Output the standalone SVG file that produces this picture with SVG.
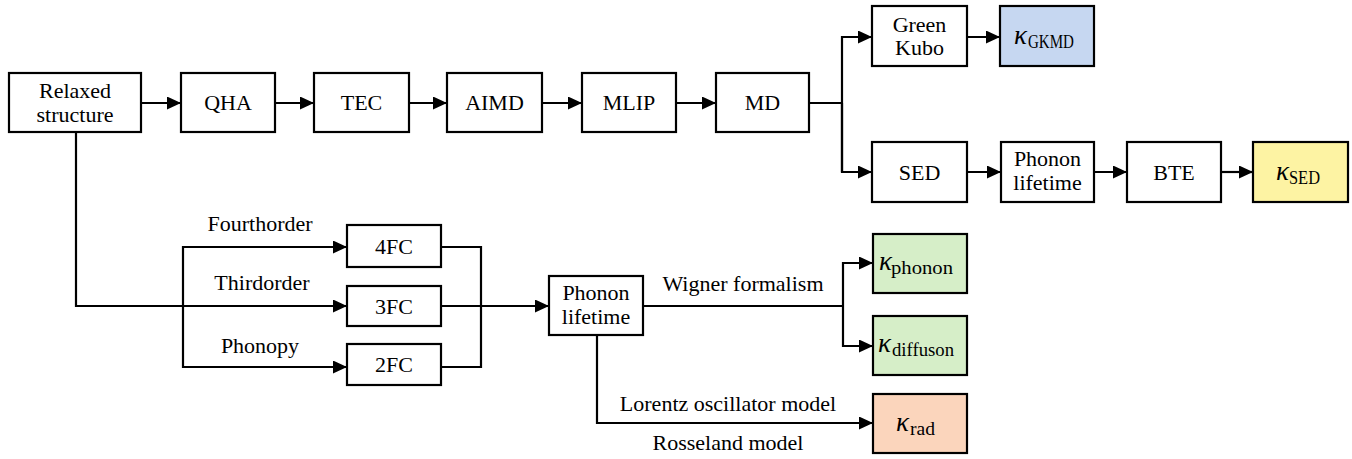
<svg xmlns="http://www.w3.org/2000/svg" width="1352" height="459" viewBox="0 0 1352 459">
  <defs>
    <marker id="arrow" viewBox="0 0 14 13" refX="14" refY="6.5" markerWidth="14" markerHeight="13" markerUnits="userSpaceOnUse" orient="auto">
      <path d="M0,0 L14,6.5 L0,13 Z" fill="#000"/>
    </marker>
  </defs>
  <style>
    .box { fill: #fff; stroke: #000; stroke-width: 2.2; }
    .blue { fill: #c6d7f1; }
    .yellow { fill: #fdf3a3; }
    .green { fill: #d6eec8; }
    .orange { fill: #fbd5bc; }
    .lbl { font-family: "Liberation Serif", "Times New Roman", serif; font-size: 22px; fill: #000; text-anchor: middle; }
    .k { font-family: "Liberation Serif", "Times New Roman", serif; font-style: italic; font-size: 27px; fill: #000; }
    .sub { font-family: "Liberation Serif", "Times New Roman", serif; font-size: 18px; fill: #000; }
    .wire { fill: none; stroke: #000; stroke-width: 2.2; }
  </style>
  <rect width="1352" height="459" fill="#fff"/>

  <!-- connectors -->
  <g id="connectors" class="wire">
    <path d="M141,103 H181" marker-end="url(#arrow)"/>
    <path d="M275,103 H314" marker-end="url(#arrow)"/>
    <path d="M409,103 H447" marker-end="url(#arrow)"/>
    <path d="M542,103 H582" marker-end="url(#arrow)"/>
    <path d="M676,103 H716" marker-end="url(#arrow)"/>
    <path d="M809,103 H842"/>
    <path d="M842,172 V37 H872" marker-end="url(#arrow)"/>
    <path d="M842,103 V172 H872" marker-end="url(#arrow)"/>
    <path d="M967,37 H1000" marker-end="url(#arrow)"/>
    <path d="M967,172 H1001" marker-end="url(#arrow)"/>
    <path d="M1094,172 H1127" marker-end="url(#arrow)"/>
    <path d="M1221,172 H1253" marker-end="url(#arrow)"/>
    <!-- force-constant branches -->
    <path d="M76,132 V306 H347" marker-end="url(#arrow)"/>
    <path d="M183,306 V247 H347" marker-end="url(#arrow)"/>
    <path d="M183,306 V367 H347" marker-end="url(#arrow)"/>
    <path d="M441,247 H481 V367 H441"/>
    <path d="M441,306 H549" marker-end="url(#arrow)"/>
    <!-- lifetime to conductivities -->
    <path d="M643,306 H843"/>
    <path d="M843,306 V263 H873" marker-end="url(#arrow)"/>
    <path d="M843,306 V346 H873" marker-end="url(#arrow)"/>
    <path d="M597,335 V423 H873" marker-end="url(#arrow)"/>
  </g>

  <!-- connector labels -->
  <g id="edge-labels">
    <text class="lbl" x="260" y="231">Fourthorder</text>
    <text class="lbl" x="262" y="290">Thirdorder</text>
    <text class="lbl" x="260" y="353">Phonopy</text>
    <text class="lbl" x="743" y="291">Wigner formalism</text>
    <text class="lbl" x="728" y="411">Lorentz oscillator model</text>
    <text class="lbl" x="728" y="450">Rosseland model</text>
  </g>

  <g id="relaxed">
    <rect class="box" x="9" y="73" width="132" height="59"/>
    <text class="lbl" x="75" y="97.5">Relaxed</text>
    <text class="lbl" x="75" y="121.5">structure</text>
  </g>
  <g id="qha">
    <rect class="box" x="181" y="73" width="94" height="59"/>
    <text class="lbl" x="228" y="110">QHA</text>
  </g>
  <g id="tec">
    <rect class="box" x="314" y="73" width="95" height="59"/>
    <text class="lbl" x="361.5" y="110">TEC</text>
  </g>
  <g id="aimd">
    <rect class="box" x="447" y="73" width="95" height="59"/>
    <text class="lbl" x="494.5" y="110">AIMD</text>
  </g>
  <g id="mlip">
    <rect class="box" x="582" y="73" width="94" height="59"/>
    <text class="lbl" x="629" y="110">MLIP</text>
  </g>
  <g id="md">
    <rect class="box" x="716" y="73" width="93" height="59"/>
    <text class="lbl" x="762.5" y="110">MD</text>
  </g>
  <g id="green-kubo">
    <rect class="box" x="872" y="6" width="95" height="60"/>
    <text class="lbl" x="919.5" y="31.5">Green</text>
    <text class="lbl" x="919.5" y="55">Kubo</text>
  </g>
  <g id="k-gkmd">
    <rect class="box blue" x="1000" y="6" width="94" height="60"/>
    <text class="k" x="1014" y="44">κ</text>
    <text class="sub" x="1028" y="47.5" textLength="46" lengthAdjust="spacingAndGlyphs">GKMD</text>
  </g>
  <g id="sed">
    <rect class="box" x="872" y="142" width="95" height="60"/>
    <text class="lbl" x="919.5" y="179.5">SED</text>
  </g>
  <g id="lifetime-md">
    <rect class="box" x="1001" y="142" width="93" height="60"/>
    <text class="lbl" x="1047.5" y="165.5">Phonon</text>
    <text class="lbl" x="1047.5" y="189.5">lifetime</text>
  </g>
  <g id="bte">
    <rect class="box" x="1127" y="142" width="94" height="60"/>
    <text class="lbl" x="1174" y="179.5">BTE</text>
  </g>
  <g id="k-sed">
    <rect class="box yellow" x="1253" y="142" width="95" height="60"/>
    <text class="k" x="1276" y="180">κ</text>
    <text class="sub" x="1289" y="183.5" textLength="31" lengthAdjust="spacingAndGlyphs">SED</text>
  </g>
  <g id="fc4">
    <rect class="box" x="347" y="225" width="94" height="42"/>
    <text class="lbl" x="394" y="254">4FC</text>
  </g>
  <g id="fc3">
    <rect class="box" x="347" y="286" width="94" height="40"/>
    <text class="lbl" x="394" y="313.5">3FC</text>
  </g>
  <g id="fc2">
    <rect class="box" x="347" y="344" width="94" height="41"/>
    <text class="lbl" x="394" y="372">2FC</text>
  </g>
  <g id="lifetime-fc">
    <rect class="box" x="549" y="276" width="94" height="59"/>
    <text class="lbl" x="596" y="300">Phonon</text>
    <text class="lbl" x="596" y="323.5">lifetime</text>
  </g>
  <g id="k-phonon">
    <rect class="box green" x="873" y="234" width="94" height="59"/>
    <text class="k" x="879" y="270">κ</text>
    <text class="sub" x="891" y="273.5" textLength="62" lengthAdjust="spacingAndGlyphs">phonon</text>
  </g>
  <g id="k-diffuson">
    <rect class="box green" x="873" y="316" width="94" height="59"/>
    <text class="k" x="878" y="352">κ</text>
    <text class="sub" x="892" y="356" textLength="62" lengthAdjust="spacingAndGlyphs">diffuson</text>
  </g>
  <g id="k-rad">
    <rect class="box orange" x="873" y="394" width="94" height="59"/>
    <text class="k" x="896" y="431">κ</text>
    <text class="sub" x="910" y="434.5" textLength="25" lengthAdjust="spacingAndGlyphs">rad</text>
  </g>
</svg>
